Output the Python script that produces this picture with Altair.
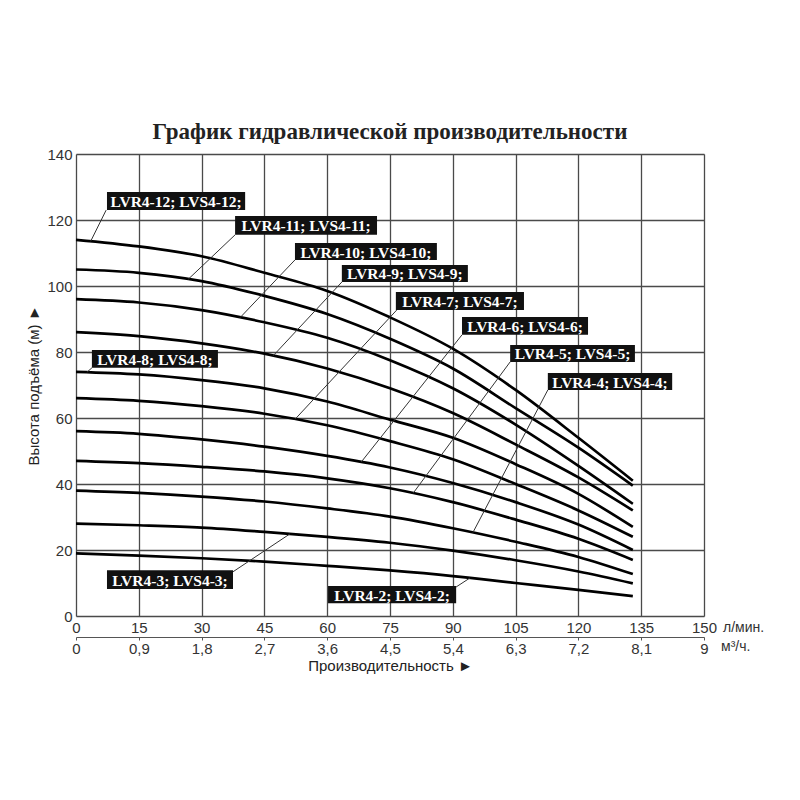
import altair as alt
import pandas as pd
import numpy as np

# ---------------- data ----------------
flow = [0, 15, 30, 45, 60, 75, 90, 105, 120, 133]
models = [12, 11, 10, 9, 8, 7, 6, 5, 4, 3, 2]
h12 = [114, 112, 109, 104, 98.5, 90.5, 81, 68.5, 54, 41]
h11 = [105, 104, 101.5, 97, 91.5, 84, 75, 63, 51, 39.5]
h10 = [96, 95, 92.7, 89, 84.3, 77.5, 69, 58, 45.5, 34]
h9 = [86, 84.8, 82.6, 79.5, 75, 69, 61.5, 52, 42, 32]
h8 = [74, 73.2, 71.5, 69, 65, 59.5, 54, 46, 37, 27]
h7 = [66, 65.2, 63.6, 61.3, 57.8, 53, 47.5, 40, 32, 24]
h6 = [56, 55.2, 53.5, 51.3, 48.5, 45, 40.3, 34.5, 27.7, 20]
h5 = [47, 46.3, 45.2, 43.8, 41.7, 38.7, 34.5, 29.2, 23.4, 17]
h4 = [38, 37.3, 36.2, 34.7, 32.6, 30.1, 26.6, 22.5, 17.9, 12.7]
h3 = [28, 27.5, 26.8, 25.5, 24, 22.2, 19.8, 16.9, 13.5, 9.9]
h2 = [19, 18.3, 17.5, 16.5, 15.2, 13.8, 12.1, 10.0, 7.9, 6]
heads = [h12, h11, h10, h9, h8, h7, h6, h5, h4, h3, h2]

x_ticks = [0, 15, 30, 45, 60, 75, 90, 105, 120, 135, 150]
m3_ticks = [0, 0.9, 1.8, 2.7, 3.6, 4.5, 5.4, 6.3, 7.2, 8.1, 9]
y_ticks = [0, 20, 40, 60, 80, 100, 120, 140]

label_text = ["LVR4-12; LVS4-12;", "LVR4-11; LVS4-11;", "LVR4-10; LVS4-10;",
              "LVR4-9; LVS4-9;", "LVR4-7; LVS4-7;", "LVR4-8; LVS4-8;",
              "LVR4-6; LVS4-6;", "LVR4-5; LVS4-5;", "LVR4-4; LVS4-4;",
              "LVR4-3; LVS4-3;", "LVR4-2; LVS4-2;"]
label_model = [12, 11, 10, 9, 7, 8, 6, 5, 4, 3, 2]
box_x = [7.4, 38.0, 52.3, 63.5, 76.4, 3.8, 92.2, 103.7, 112.7, 7.4, 60.2]
box_x2 = [40.4, 71.9, 86.2, 93.6, 107.0, 33.9, 122.3, 133.5, 142.4, 37.5, 90.8]
box_top = [128.5, 121.2, 113.0, 106.4, 98.2, 80.6, 90.6, 82.1, 73.6, 13.9, 9.1]
box_bot = [123.0, 115.5, 107.9, 101.2, 92.7, 75.2, 85.2, 77.0, 68.5, 8.2, 3.9]
lead_x = [7.2, 38.0, 52.3, 63.5, 76.6, 3.8, 92.2, 103.7, 112.7, 37.5, 90.8]
lead_y = [123.0, 115.5, 107.9, 101.2, 92.7, 75.2, 85.2, 77.0, 68.5, 13.4, 8.8]
lead_end_x = [3.5, 26.8, 39.2, 47.1, 52.3, 2.6, 68.1, 80.5, 94.8, 51.1, 94.1]

# ---------------- tables ----------------
rows = []
for m, hs in zip(models, heads):
    for f, h in zip(flow, hs):
        rows.append({"flow": f, "head": h, "model": f"LVR4-{m}"})
curves = pd.DataFrame(rows)

head_of = dict(zip(models, heads))
lead_end_y = [float(np.interp(xe, flow, head_of[m])) for xe, m in zip(lead_end_x, label_model)]
labels = pd.DataFrame({
    "text": label_text,
    "x": box_x, "x2": box_x2, "y": box_top, "y2": box_bot,
    "tx": [(a + b) / 2 for a, b in zip(box_x, box_x2)],
    "ty": [(a + b) / 2 for a, b in zip(box_top, box_bot)],
    "lx": lead_x, "ly": lead_y, "lx2": lead_end_x, "ly2": lead_end_y,
})

FONT = "Liberation Sans"
SERIF = "Liberation Serif"
GRID = "#4a4a4a"
LBL = "#333333"

xscale = alt.Scale(domain=[0, 150], nice=False, zero=True)
yscale = alt.Scale(domain=[0, 140], nice=False)

lines = alt.Chart(curves).mark_line(color="black", strokeWidth=2.7, interpolate="monotone").encode(
    x=alt.X("flow:Q", scale=xscale,
            axis=alt.Axis(values=x_ticks, grid=True, gridColor=GRID, gridWidth=1.3, gridOpacity=1,
                          ticks=False, domain=False, labelPadding=4, labelFont=FONT,
                          labelFontSize=15, labelColor=LBL, title=None, labelFlush=False)),
    y=alt.Y("head:Q", scale=yscale,
            axis=alt.Axis(values=y_ticks, grid=True, gridColor=GRID, gridWidth=1.3, gridOpacity=1,
                          ticks=False, domain=False, labelPadding=4, labelFont=FONT,
                          labelFontSize=15, labelColor=LBL, title="Высота подъёма (м) ►",
                          titleFont=FONT, titleFontSize=15, titleFontWeight="normal",
                          titleColor="#222", titlePadding=5, labelFlush=False)),
    detail="model:N",
)

leaders = alt.Chart(labels).mark_rule(color="#333", strokeWidth=1).encode(
    x="lx:Q", y="ly:Q", x2="lx2:Q", y2="ly2:Q")

boxes = alt.Chart(labels).mark_rect(color="#111").encode(
    x="x:Q", x2="x2:Q", y="y:Q", y2="y2:Q")

texts = alt.Chart(labels).mark_text(color="white", font=SERIF, fontSize=15.5, fontWeight="bold",
                                    align="center", baseline="middle", dy=1).encode(
    x="tx:Q", y="ty:Q", text="text:N")

unit1 = alt.Chart(pd.DataFrame({"t": ["л/мин."]})).mark_text(
    font=FONT, fontSize=14, color=LBL, align="left", baseline="middle", dx=19, dy=12).encode(
    x=alt.datum(150), y=alt.datum(0), text="t:N")
unit2 = alt.Chart(pd.DataFrame({"t": ["м³/ч."]})).mark_text(
    font=FONT, fontSize=14, color=LBL, align="left", baseline="middle", dx=17, dy=31).encode(
    x=alt.datum(150), y=alt.datum(0), text="t:N")

main = alt.layer(lines, leaders, boxes, texts, unit1, unit2)

m3_layer = alt.Chart(pd.DataFrame({"m3": [0, 9]})).mark_point(opacity=0).encode(
    x=alt.X("m3:Q", scale=alt.Scale(domain=[0, 9], nice=False),
            axis=alt.Axis(orient="bottom", offset=21, values=m3_ticks, grid=False,
                          ticks=True, tickSize=3, tickColor="#555", domain=True,
                          domainColor="#555", domainWidth=1.2,
                          labelExpr="(datum.value == 0 || datum.value == 9) ? format(datum.value, 'd') : replace(format(datum.value, '.1f'), '.', ',')",
                          labelPadding=1, labelFont=FONT, labelFontSize=15, labelColor=LBL,
                          labelFlush=False,
                          title="Производительность ►", titleFont=FONT, titleFontSize=15,
                          titleFontWeight="normal", titleColor="#222", titlePadding=2)),
)

chart = alt.layer(main, m3_layer).resolve_scale(x="independent").properties(
    width=628, height=462,
    autosize=alt.AutoSizeParams(type="none"),
    padding={"left": 68, "top": 146, "right": 88, "bottom": 150},
    title=alt.TitleParams("График гидравлической производительности", font=SERIF,
                          fontSize=23, fontWeight="bold", color="#222", anchor="middle", offset=3),
).configure_view(stroke=GRID, strokeWidth=1.5).configure(background="white")

chart.save("out.html", embed_options={"renderer": "svg", "actions": False})
